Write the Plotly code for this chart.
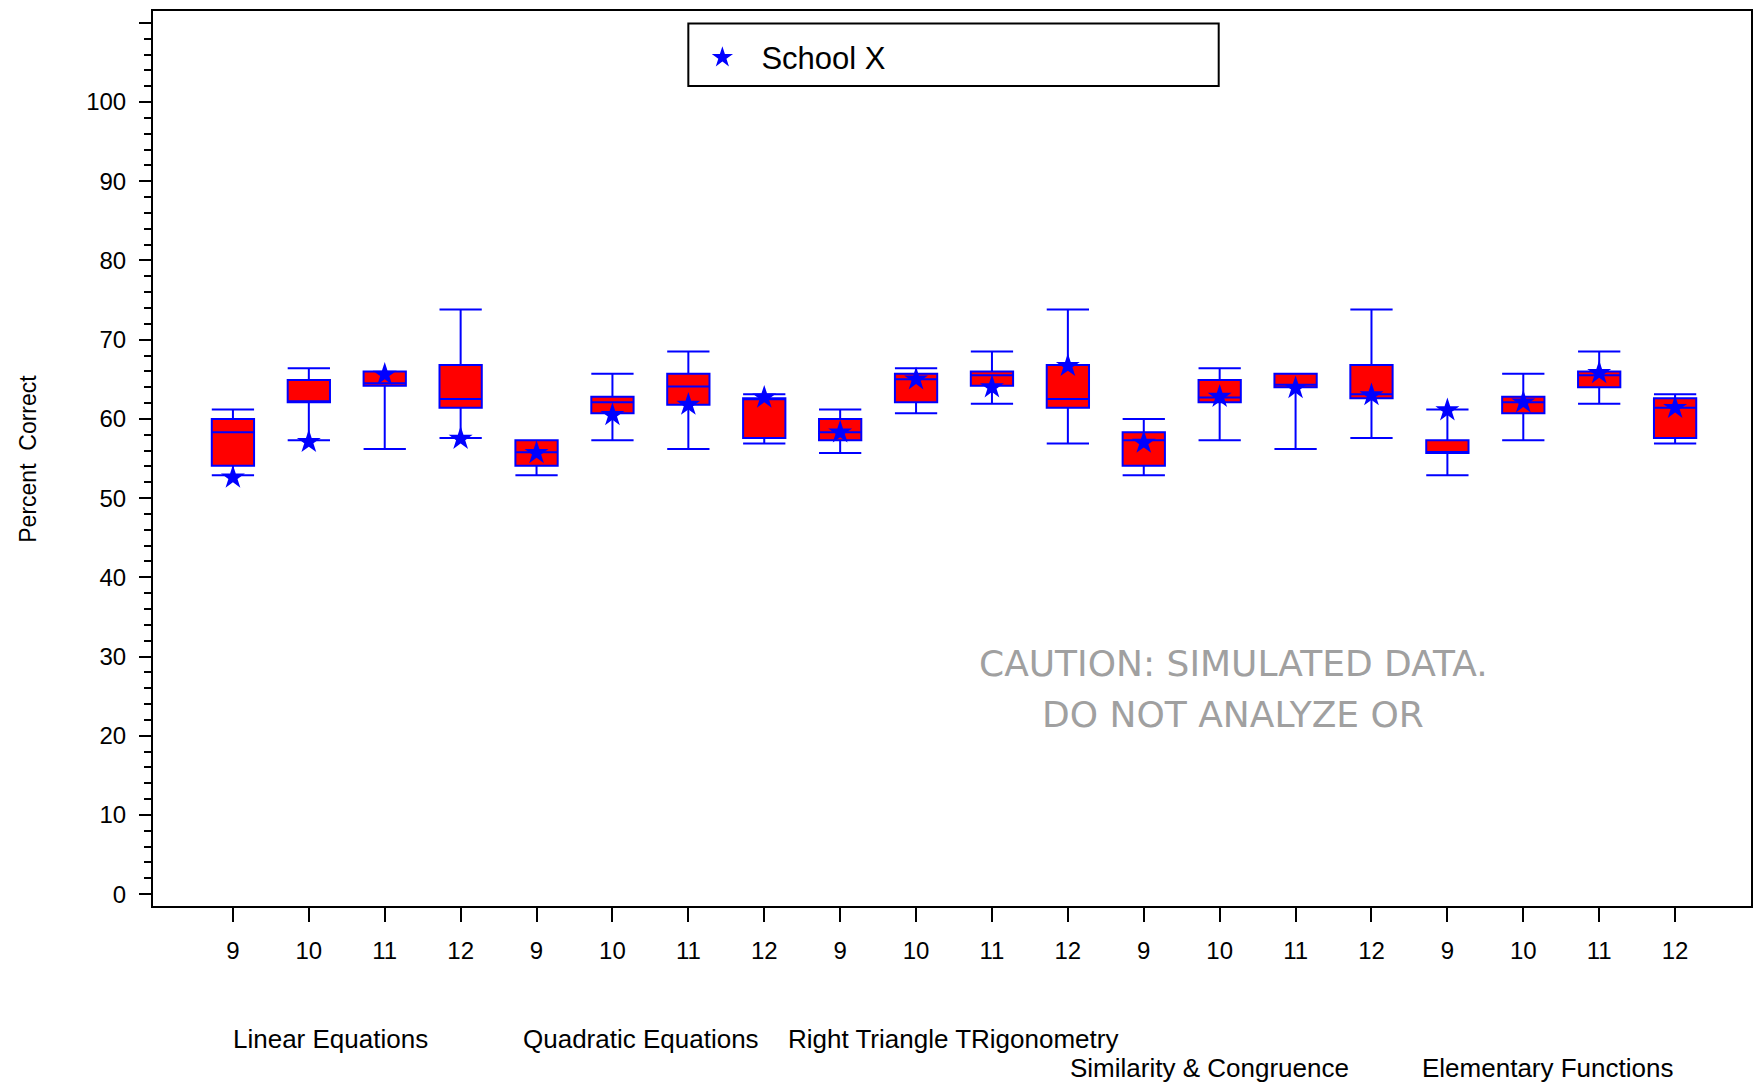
import plotly.graph_objects as go

# Topics and grades on the category axis
topics = ["Linear Equations", "Quadratic Equations", "Right Triangle TRigonometry",
          "Similarity & Congruence", "Elementary Functions"]
grades = ["9", "10", "11", "12"]

# Box statistics (percent correct), one entry per topic x grade
lower_whisker = [52.9, 57.3, 56.2, 57.6,
                 52.9, 57.3, 56.2, 56.9,
                 55.7, 60.7, 61.9, 56.9,
                 52.9, 57.3, 56.2, 57.6,
                 52.9, 57.3, 61.9, 56.9]
q1 = [54.1, 62.1, 64.2, 61.4,
      54.1, 60.7, 61.8, 57.6,
      57.3, 62.1, 64.2, 61.4,
      54.1, 62.1, 64.0, 62.6,
      55.7, 60.7, 64.0, 57.6]
median = [58.3, 62.1, 64.5, 62.5,
          55.8, 62.1, 64.1, 62.6,
          58.3, 65.0, 65.5, 62.5,
          57.3, 62.7, 64.3, 63.1,
          55.7, 62.1, 65.5, 61.4]
q3 = [60.0, 64.9, 66.0, 66.8,
      57.3, 62.8, 65.7, 62.6,
      60.0, 65.7, 66.0, 66.8,
      58.3, 64.9, 65.7, 66.8,
      57.3, 62.8, 66.0, 62.6]
upper_whisker = [61.2, 66.4, 66.0, 73.8,
                 57.3, 65.7, 68.5, 63.1,
                 61.2, 66.4, 68.5, 73.8,
                 60.0, 66.4, 65.7, 73.8,
                 61.2, 65.7, 68.5, 63.1]
# School X scores
school_x = [52.6, 57.1, 65.6, 57.5,
            55.7, 60.5, 61.8, 62.7,
            58.3, 65.0, 64.0, 66.7,
            57.0, 62.8, 63.9, 63.0,
            61.1, 62.1, 65.8, 61.4]

# Topic labels: horizontal centre (in category units) and row below the axis
topic_label_x = [1.29, 5.37, 9.49, 12.87, 17.32]
topic_label_row = [0, 0, 0, 1, 1]

positions = list(range(len(q1)))
tick_text = grades * len(topics)

FONT = "Liberation Sans, Arial, sans-serif"
BLUE = "#0000FF"
RED = "#FF0000"

fig = go.Figure()

fig.add_trace(go.Box(
    x=positions,
    q1=q1, median=median, q3=q3,
    lowerfence=lower_whisker, upperfence=upper_whisker,
    width=0.557,
    whiskerwidth=1,
    fillcolor=RED,
    line=dict(color=BLUE, width=2),
    boxpoints=False,
    showlegend=False,
    hoverinfo="skip",
))

fig.add_trace(go.Scatter(
    x=positions, y=school_x,
    mode="markers",
    name="School X",
    marker=dict(symbol="star", size=18, color=BLUE, line=dict(width=0)),
))

# Legend frame
fig.add_shape(type="rect", xref="paper", yref="paper",
              x0=0.335, x1=0.6669, y0=0.9162, y1=0.986,
              line=dict(color="black", width=2), fillcolor="rgba(0,0,0,0)")

# Topic labels under the grade ticks
row_y = [-0.1486, -0.1813]
for name, cx, row in zip(topics, topic_label_x, topic_label_row):
    fig.add_annotation(text=name, x=cx, xref="x", y=row_y[row], yref="paper",
                       xanchor="center", yanchor="middle", showarrow=False,
                       font=dict(family=FONT, size=26, color="black"))

# Y-axis title
fig.add_annotation(text="Percent  Correct", x=-0.0787, xref="paper", y=0.5, yref="paper",
                   textangle=-90, xanchor="center", yanchor="middle", showarrow=False,
                   font=dict(family=FONT, size=23, color="black"))

# Watermark
for txt, yy in [("CAUTION: SIMULATED DATA.", 0.2715), ("DO NOT ANALYZE OR", 0.2145)]:
    fig.add_annotation(text=txt, x=0.676, xref="paper", y=yy, yref="paper",
                       xanchor="center", yanchor="middle", showarrow=False,
                       font=dict(family="DejaVu Sans, sans-serif", size=36, color="#A0A0A0"))

y_ticks = list(range(0, 111, 10))
y_text = [str(v) if v <= 100 else "" for v in y_ticks]

fig.update_layout(
    width=1754, height=1083,
    margin=dict(l=153, r=1, t=11, b=177),
    paper_bgcolor="white", plot_bgcolor="white",
    font=dict(family=FONT, color="black"),
    legend=dict(x=0.3319, y=0.978, xanchor="left", yanchor="top",
                bgcolor="rgba(0,0,0,0)", borderwidth=0,
                font=dict(family=FONT, size=31, color="black"),
                itemwidth=68),
    xaxis=dict(range=[-1.053, 20.0], tickmode="array", tickvals=positions, ticktext=tick_text,
               ticks="outside", ticklen=14, tickwidth=1.5, tickcolor="black",
               showline=True, linecolor="black", linewidth=2, mirror=True,
               showgrid=False, zeroline=False,
               tickfont=dict(family=FONT, size=24, color="black"),
               ticklabelstandoff=8),
    yaxis=dict(range=[-1.5, 111.5], tickmode="array", tickvals=y_ticks, ticktext=y_text,
               ticks="outside", ticklen=12, tickwidth=1.5, tickcolor="black",
               minor=dict(tick0=0, dtick=2, ticks="outside", ticklen=7, tickwidth=1.5,
                          tickcolor="black", showgrid=False),
               showline=True, linecolor="black", linewidth=2, mirror=True,
               showgrid=False, zeroline=False,
               tickfont=dict(family=FONT, size=24, color="black"),
               ticklabelstandoff=8),
)

fig.write_html("out.html")
